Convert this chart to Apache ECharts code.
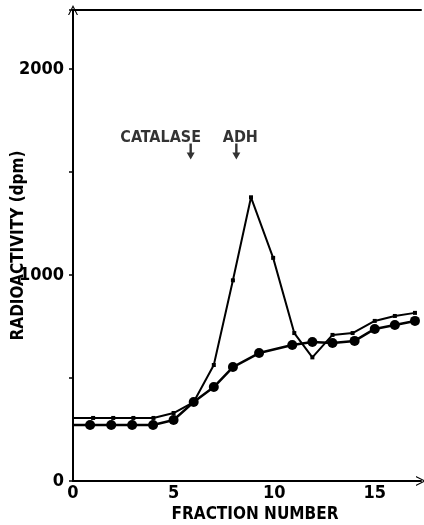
<!DOCTYPE html>
<html>
<head>
<meta charset="UTF-8">
<title>Radioactivity by fraction</title>
<script src="https://cdn.jsdelivr.net/npm/echarts@6/dist/echarts.min.js"></script>
<style>
  html, body { margin: 0; padding: 0; background: #fff; }
  #chart { width: 424px; height: 525px; }
</style>
</head>
<body>
<div id="chart"></div>
<script>
// circles series: [fraction, dpm]
var dotX = [0, 0.85, 1.9, 2.94, 3.98, 5, 6, 7, 7.95, 9.25, 10.9, 11.9, 12.9, 14, 15, 16, 17];
var dotY = [272, 272, 272, 272, 272, 296, 383, 456, 553, 621, 660, 675, 670, 680, 738, 757, 777];
// crosses series
var crossX = [0, 1, 2, 3, 4, 5, 6, 7, 7.95, 8.85, 9.95, 11.0, 11.9, 12.9, 13.9, 15, 16, 17];
var crossY = [306, 306, 306, 306, 306, 330, 383, 563, 974, 1377, 1083, 718, 600, 709, 718, 777, 801, 816];
// annotation arrows
var markNames = ['CATALASE', 'ADH'];
var markX = [5.85, 8.12];
var markY = [1560, 1560];

var FONT = '"DejaVu Sans Condensed", "DejaVu Sans", sans-serif';
var chevron = 'path://M0,10 L5,0 L10,10 L8.8,10 L5,2.4 L1.2,10 Z';

function pairs(xs, ys) { return xs.map(function (x, i) { return [x, ys[i]]; }); }
function hideFirst(d) { return d.map(function (p, i) { return i === 0 ? { value: p, symbol: 'none' } : p; }); }

var chart = echarts.init(document.getElementById('chart'));
chart.setOption({
  animation: false,
  grid: { left: 73, right: 3, top: 10, bottom: 44, outerBoundsMode: 'none', containLabel: false },
  xAxis: [{
    type: 'value', min: 0, max: 17.3, interval: 5,
    name: 'FRACTION NUMBER', nameLocation: 'middle', nameGap: 25, nameMoveOverlap: false,
    nameTextStyle: { fontFamily: FONT, fontSize: 17, fontWeight: 'bold', color: '#000', padding: [0, 0, 0, 16] },
    axisLine: { lineStyle: { color: '#000', width: 2 }, symbol: ['none', chevron], symbolSize: [10, 10] },
    axisTick: { show: false },
    axisLabel: { fontFamily: FONT, fontSize: 18, fontWeight: 'bold', color: '#000', margin: 3,
      formatter: function (v) { return v <= 15 ? v : ''; } },
    splitLine: { show: false }
  }, {
    type: 'value', position: 'top', min: 0, max: 17.3,
    axisLine: { show: true, lineStyle: { color: '#000', width: 2 } },
    axisTick: { show: false }, axisLabel: { show: false }, splitLine: { show: false }
  }],
  yAxis: {
    type: 'value', min: 0, max: 2286, interval: 500,
    name: 'RADIOACTIVITY (dpm)', nameLocation: 'middle', nameGap: 46, nameMoveOverlap: false,
    nameTextStyle: { fontFamily: FONT, fontSize: 17, fontWeight: 'bold', color: '#000' },
    axisLine: { show: true, lineStyle: { color: '#000', width: 2 }, symbol: ['none', chevron], symbolSize: [10, 10] },
    axisTick: { show: true, length: 4, lineStyle: { color: '#000', width: 1.5 } },
    axisLabel: { fontFamily: FONT, fontSize: 18, fontWeight: 'bold', color: '#000', margin: 9,
      formatter: function (v) { return v % 1000 === 0 ? v : ''; } },
    splitLine: { show: false }
  },
  series: [{
    type: 'line', data: hideFirst(pairs(crossX, crossY)),
    symbol: 'rect', symbolSize: 4, showAllSymbol: true,
    lineStyle: { color: '#000', width: 2 }, itemStyle: { color: '#000' }
  }, {
    type: 'line', data: hideFirst(pairs(dotX, dotY)),
    symbol: 'circle', symbolSize: 10, showAllSymbol: true,
    lineStyle: { color: '#000', width: 2.5 }, itemStyle: { color: '#000' }
  }, {
    type: 'scatter', data: pairs(markX, markY),
    symbol: 'path://M3.5,0 L6.5,0 L6.5,10 L10,10 L5,18 L0,10 L3.5,10 Z',
    symbolSize: [8, 16], symbolOffset: [0, -8],
    itemStyle: { color: '#000' },
    label: {
      show: true, position: 'top', distance: -2,
      fontFamily: FONT, fontSize: 16, fontWeight: 'bold', color: '#000',
      formatter: function (p) { return markNames[p.dataIndex]; }
    },
    labelLayout: function (p) {
      return p.dataIndex === 0 ? { dx: -30 } : { dx: 4 };
    }
  }]
});
</script>
</body>
</html>
